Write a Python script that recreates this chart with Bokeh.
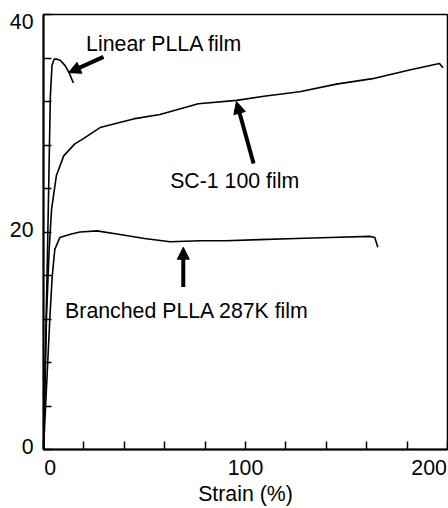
from bokeh.plotting import figure
from bokeh.models import Range1d, FixedTicker, Label, Arrow, NormalHead, LinearAxis
from bokeh.embed import file_html
from bokeh.resources import INLINE

# ---------------- data ----------------
linear_strain = [0, 1.0, 2.0, 2.8, 3.4, 4.2, 5.3, 6.3, 8.3, 10.7, 12.8, 14.8]
linear_stress = [0, 9.2, 18.4, 26.5, 32.5, 35.3, 35.9, 35.9, 35.8, 35.3, 34.6, 33.7]

sc1_strain = [0, 1.5, 2.8, 4.0, 6.4, 10.0, 15.5, 19.0, 28.0, 44.5, 57.7, 76.6,
              95.6, 110.0, 126.8, 145.0, 162.9, 181.2, 196.0, 197.8]
sc1_stress = [0, 12.3, 18.4, 22.1, 25.2, 27.0, 28.1, 28.5, 29.6, 30.4, 30.8, 31.8,
              32.1, 32.5, 32.9, 33.6, 34.1, 34.9, 35.5, 35.1]

br_strain = [0, 3.2, 4.3, 5.6, 8.1, 13.3, 18.1, 26.4, 37.1, 50.0, 62.7, 77.4,
             90.0, 107.0, 125.0, 141.7, 161.5, 164.0, 165.5]
br_stress = [0, 12.3, 15.9, 18.4, 19.5, 19.8, 20.0, 20.1, 19.8, 19.4, 19.1, 19.2,
             19.2, 19.3, 19.4, 19.5, 19.6, 19.5, 18.6]

x_ticks = [0, 20, 40, 60, 80, 100, 120, 140, 160, 180, 200]
y_ticks = [0, 4, 8, 12, 16, 20, 24, 28, 32, 36, 40]
x_label_vals = [0, 100, 200]
y_label_vals = [0, 20, 40]
x_title = "Strain (%)"

names = ["Linear PLLA film", "SC-1 100 film", "Branched PLLA 287K film"]

# ---------------- layout / style ----------------
FONT = "Liberation Sans"
FS = "21.3px"

p = figure(width=448, height=508, x_range=Range1d(0, 200), y_range=Range1d(0, 40),
           output_backend="svg", toolbar_location=None,
           min_border_left=43, min_border_right=1, min_border_top=14, min_border_bottom=58)
p.background_fill_color = "white"
p.border_fill_color = "white"
p.outline_line_color = "black"
p.outline_line_width = 1.5
p.grid.visible = False

# primary axes: tick marks only (labels hidden and sized to nothing)
for ax, ticks in ((p.xaxis[0], x_ticks), (p.yaxis[0], y_ticks)):
    ax.ticker = FixedTicker(ticks=ticks)
    ax.axis_line_width = 2
    ax.axis_line_color = "black"
    ax.major_tick_in = 8
    ax.major_tick_out = 0
    ax.major_tick_line_width = 1.5
    ax.major_tick_line_color = "black"
    ax.minor_tick_line_color = None
    ax.major_label_overrides = {t: "" for t in ticks}
    ax.major_label_text_color = None
    ax.major_label_text_font_size = "0px"
    ax.major_label_standoff = 0

# secondary axes: labels only, nudged like the original (edge labels pulled inward)
x_label_pos = {0: 3.3, 100: 100.0, 200: 190.9}
y_label_pos = {0: 0.3, 20: 20.2, 40: 39.4}

xlab = LinearAxis(ticker=FixedTicker(ticks=[x_label_pos[v] for v in x_label_vals]),
                  major_label_overrides={x_label_pos[v]: str(v) for v in x_label_vals},
                  axis_line_color=None, major_tick_line_color=None, minor_tick_line_color=None,
                  major_tick_in=0, major_tick_out=0,
                  major_label_standoff=10, major_label_text_font=FONT,
                  major_label_text_font_size=FS, major_label_text_color="black",
                  axis_label=x_title, axis_label_text_font=FONT, axis_label_text_font_size=FS,
                  axis_label_text_font_style="normal", axis_label_standoff=4,
                  axis_label_text_color="black")
p.add_layout(xlab, "below")

ylab = LinearAxis(ticker=FixedTicker(ticks=[y_label_pos[v] for v in y_label_vals]),
                  major_label_overrides={y_label_pos[v]: str(v) for v in y_label_vals},
                  axis_line_color=None, major_tick_line_color=None, minor_tick_line_color=None,
                  major_tick_in=0, major_tick_out=0,
                  major_label_standoff=10, major_label_text_font=FONT,
                  major_label_text_font_size=FS, major_label_text_color="black")
p.add_layout(ylab, "left")

# curves
for xs, ys in ((linear_strain, linear_stress), (sc1_strain, sc1_stress), (br_strain, br_stress)):
    p.line(xs, ys, line_color="black", line_width=1.6)

# annotations
ann_pos = [(21.1, 37.25), (62.7, 24.65), (10.7, 12.75)]
for t, (ax_, ay_) in zip(names, ann_pos):
    p.add_layout(Label(x=ax_, y=ay_, text=t, text_align="left", text_baseline="alphabetic",
                       text_font=FONT, text_font_size=FS, text_color="black"))

arrows = [((29.7, 36.1), (12.4, 34.65)),
          ((104.0, 26.3), (95.5, 32.0)),
          ((69.2, 14.95), (69.2, 18.6))]
for (x0, y0), (x1, y1) in arrows:
    p.add_layout(Arrow(x_start=x0, y_start=y0, x_end=x1, y_end=y1, line_width=4,
                       line_color="black",
                       end=NormalHead(size=12, fill_color="black", line_color="black", line_width=1)))

open("out.html", "w").write(file_html(p, INLINE))
